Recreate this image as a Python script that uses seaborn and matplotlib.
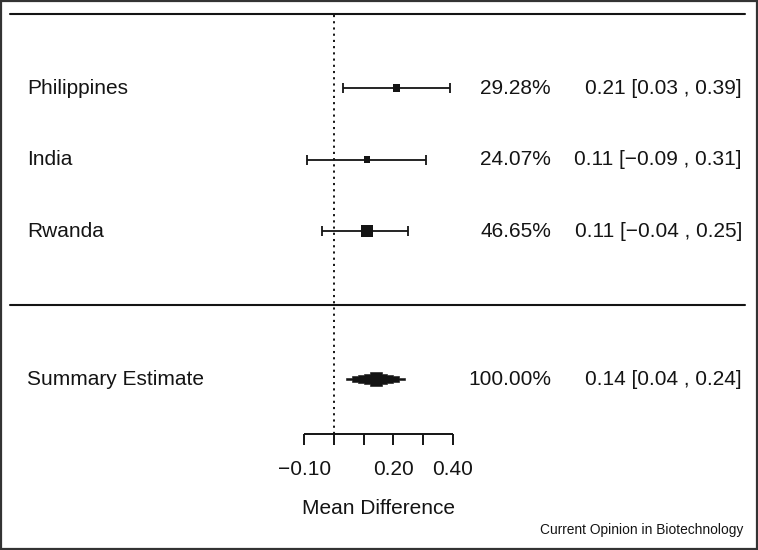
"""
Forest plot: mean difference by country with random-effects summary.
"""
import numpy as np
import pandas as pd
import matplotlib
matplotlib.use("Agg")
import matplotlib.pyplot as plt
from matplotlib.patches import Rectangle
import seaborn as sns

# ── data ─────────────────────────────────────────────────────────────
STUDIES   = ["Philippines", "India", "Rwanda"]
ESTIMATE  = [0.21, 0.11, 0.11]
CI_LOW    = [0.03, -0.09, -0.04]
CI_HIGH   = [0.39, 0.31, 0.25]
WEIGHTS   = [29.28, 24.07, 46.65]

SUMMARY_LABEL  = "Summary Estimate"
SUMMARY_EST    = 0.14
SUMMARY_LOW    = 0.04
SUMMARY_HIGH   = 0.24
SUMMARY_WEIGHT = 100.00

AXIS_TICKS  = [-0.10, 0.00, 0.10, 0.20, 0.30, 0.40]
TICK_LABELS = ["\u22120.10", "", "", "0.20", "", "0.40"]
X_LABEL     = "Mean Difference"
CREDIT      = "Current Opinion in Biotechnology"

# ── layout (row units, metafor style: studies k..1, summary at -1) ───
ROWS        = [3, 2, 1]
SUMMARY_ROW = -1.07
TOP_RULE    = 4.03
MID_RULE    = -0.035
AXIS_ROW    = -1.839
TICK_LEN    = 0.154
TICKLAB_ROW = -2.33
XLAB_ROW    = -2.875
CREDIT_ROW  = -3.18
INK         = "#141414"


def fmt(v):
    return f"{v:.2f}".replace("-", "\u2212")


df = pd.DataFrame({
    "study": STUDIES, "row": ROWS, "est": ESTIMATE,
    "lo": CI_LOW, "hi": CI_HIGH, "w": WEIGHTS,
})
# square side ~ proportional to weight (px -> pt at 100 dpi)
df["area"] = (df["w"] * 0.25 * 0.72) ** 2

sns.set_theme(style="white")
plt.rcParams["font.family"] = ["Liberation Sans", "DejaVu Sans"]

fig = plt.figure(figsize=(7.58, 5.5), dpi=100)
ax = fig.add_axes([0, 0, 1, 1])
ax.set_xlim(-334 / 297, 424 / 297)
ax.set_ylim(-3.4615, 4.2308)
ax.axis("off")

txt = dict(fontsize=15, color=INK, va="center")
tr = ax.get_yaxis_transform()  # x in axes fraction, y in data

# rules
for r in (TOP_RULE, MID_RULE):
    ax.axhline(r, xmin=10 / 758, xmax=745 / 758, color=INK, lw=1.5)

# reference line at zero
ax.vlines(0, AXIS_ROW, TOP_RULE, color=INK, lw=1.4,
          linestyles=(0, (1.1, 2.1)))

# study CIs + squares
ax.errorbar(df["est"], df["row"],
            xerr=[df["est"] - df["lo"], df["hi"] - df["est"]],
            fmt="none", ecolor=INK, elinewidth=1.3,
            capsize=3.3, capthick=1.3)
sns.scatterplot(data=df, x="est", y="row", marker="s", s=df["area"].tolist(),
                color=INK, edgecolor="none", ax=ax, legend=False)

# summary: stepped diamond (blocky polygon as in the source)
n_steps = 5
half_w = (SUMMARY_HIGH - SUMMARY_LOW) / 2
half_h = 0.095
xs, ys = [], []
for k in range(n_steps):
    w = half_w * (1 - k / n_steps)
    h = half_h * (k + 1) / n_steps
    xs += [SUMMARY_EST - w, SUMMARY_EST - w]
    ys += [SUMMARY_ROW + (half_h * k / n_steps if k else 0.012), SUMMARY_ROW + h]
top_x = xs + [2 * SUMMARY_EST - x for x in xs[::-1]]
top_y = ys + ys[::-1]
poly_x = top_x + top_x[::-1]
poly_y = top_y + [2 * SUMMARY_ROW - y for y in top_y[::-1]]
ax.fill(poly_x, poly_y, color=INK, lw=0.4, edgecolor=INK)

# text columns
for _, r in df.iterrows():
    ax.text(27 / 758, r["row"], r["study"], transform=tr, ha="left", **txt)
    ax.text(551 / 758, r["row"], f"{r['w']:.2f}%", transform=tr, ha="right", **txt)
    ax.text(742 / 758, r["row"],
            f"{fmt(r['est'])} [{fmt(r['lo'])} , {fmt(r['hi'])}]",
            transform=tr, ha="right", **txt)

ax.text(27 / 758, SUMMARY_ROW, SUMMARY_LABEL, transform=tr, ha="left", **txt)
ax.text(551 / 758, SUMMARY_ROW, f"{SUMMARY_WEIGHT:.2f}%", transform=tr, ha="right", **txt)
ax.text(742 / 758, SUMMARY_ROW,
        f"{fmt(SUMMARY_EST)} [{fmt(SUMMARY_LOW)} , {fmt(SUMMARY_HIGH)}]",
        transform=tr, ha="right", **txt)

# bottom axis
ax.hlines(AXIS_ROW, AXIS_TICKS[0], AXIS_TICKS[-1], color=INK, lw=1.4)
ax.vlines(AXIS_TICKS, AXIS_ROW - TICK_LEN, AXIS_ROW, color=INK, lw=1.4)
for t, lab in zip(AXIS_TICKS, TICK_LABELS):
    if lab:
        ax.text(t, TICKLAB_ROW, lab, ha="center", **txt)
ax.text(np.mean([AXIS_TICKS[0], AXIS_TICKS[-1]]), XLAB_ROW, X_LABEL,
        ha="center", **txt)

ax.text(743 / 758, CREDIT_ROW, CREDIT, transform=tr, ha="right",
        va="center", fontsize=9.9, color=INK)

# outer frame
fig.patches.append(Rectangle((0.0015, 0.002), 0.997, 0.996, transform=fig.transFigure,
                             fill=False, edgecolor="#333333", lw=1.6))

fig.savefig("out.png", dpi=100)
